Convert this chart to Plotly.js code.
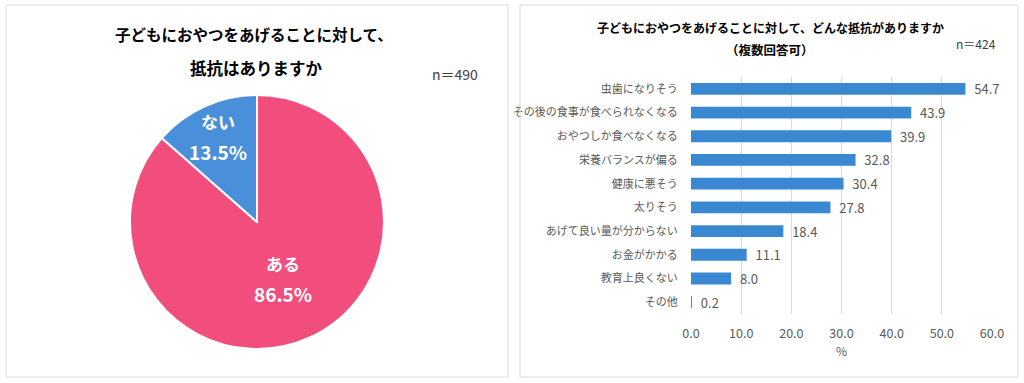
<!DOCTYPE html>
<html><head><meta charset="utf-8">
<script src="https://cdn.plot.ly/plotly-3.0.1.min.js"></script>
<style>html,body{margin:0;padding:0;background:#fff}#chart{width:1024px;height:383px}</style>
</head><body><div id="chart"></div>
<script>
const pieLabels = ["ある", "ない"];
const pieValues = [86.5, 13.5];
const pieColors = ["#F24E7D", "#4A8FD9"];

const barCategories = ["虫歯になりそう","その後の食事が食べられなくなる","おやつしか食べなくなる","栄養バランスが偏る","健康に悪そう","太りそう","あげて良い量が分からない","お金がかかる","教育上良くない","その他"];
const barValues = [54.7, 43.9, 39.9, 32.8, 30.4, 27.8, 18.4, 11.1, 8.0, 0.2];
const xTicks = [0, 10, 20, 30, 40, 50, 60];

const FONT = "'Noto Sans CJK JP', 'Noto Sans', sans-serif";
const W = 1024, H = 383;
const px = x => x / W, py = y => 1 - y / H;

// pie geometry (pixels) and label radius fraction per slice
const PIE = {cx: 257, cy: 222, r: 127};
const labelRadius = [0.49, 0.74];

const traces = [
  {
    type: "pie", labels: pieLabels, values: pieValues, sort: false, direction: "clockwise", rotation: 0,
    marker: {colors: pieColors, line: {color: "#ffffff", width: 2}},
    textinfo: "none",
    domain: {x: [px(PIE.cx - PIE.r), px(PIE.cx + PIE.r)], y: [py(PIE.cy + PIE.r), py(PIE.cy - PIE.r)]},
    showlegend: false, hoverinfo: "none"
  },
  {
    type: "bar", orientation: "h", x: barValues, y: barCategories,
    marker: {color: "#3A87D2"}, width: 0.5,
    texttemplate: "  %{x:.1f}", textposition: "outside", cliponaxis: false, constraintext: "none",
    textfont: {family: FONT, size: 13, color: "#595959"},
    xaxis: "x", yaxis: "y", showlegend: false, hoverinfo: "none"
  }
];

// pie labels placed at each slice's mid-angle
const total = pieValues.reduce((a, b) => a + b, 0);
const pieAnns = [];
let cum = 0;
pieValues.forEach((v, i) => {
  const mid = (cum + v / 2) / total * 2 * Math.PI;
  cum += v;
  const x = PIE.cx + labelRadius[i] * PIE.r * Math.sin(mid);
  const y = PIE.cy - labelRadius[i] * PIE.r * Math.cos(mid);
  pieAnns.push({xref: "paper", yref: "paper", x: px(x), y: py(y - 15), text: pieLabels[i], showarrow: false,
    xanchor: "center", yanchor: "middle", font: {family: FONT, size: 17, color: "#ffffff", weight: "bold"}});
  pieAnns.push({xref: "paper", yref: "paper", x: px(x), y: py(y + 15), text: (v / total * 100).toFixed(1) + "%", showarrow: false,
    xanchor: "center", yanchor: "middle", font: {family: FONT, size: 19, color: "#ffffff", weight: "bold"}});
});

const layout = {
  width: W, height: H, margin: {l: 0, r: 0, t: 0, b: 0},
  paper_bgcolor: "#ffffff", plot_bgcolor: "#ffffff",
  font: {family: FONT, color: "#595959"},
  xaxis: {
    domain: [px(691), px(992)], range: [0, 60], tickvals: xTicks, ticktext: xTicks.map(v => v.toFixed(1)),
    showgrid: true, gridcolor: "#D9D9D9", gridwidth: 1, zeroline: false, showline: false,
    ticks: "outside", ticklen: 8, tickcolor: "rgba(0,0,0,0)",
    tickfont: {family: FONT, size: 12.5, color: "#595959"},
    title: {text: "%", font: {family: FONT, size: 12, color: "#595959"}, standoff: 6},
    fixedrange: true
  },
  yaxis: {
    domain: [py(314), py(77)], autorange: "reversed", showgrid: false, zeroline: false, showline: false,
    ticks: "outside", ticklen: 10, tickcolor: "rgba(0,0,0,0)",
    tickfont: {family: FONT, size: 11, color: "#595959"},
    anchor: "x", fixedrange: true
  },
  shapes: [
    {type: "rect", xref: "paper", yref: "paper", x0: px(6), x1: px(508), y0: py(377), y1: py(5), line: {color: "#D9D9D9", width: 1}},
    {type: "rect", xref: "paper", yref: "paper", x0: px(520), x1: px(1018), y0: py(377), y1: py(5), line: {color: "#D9D9D9", width: 1}}
  ],
  annotations: pieAnns.concat([
    {xref: "paper", yref: "paper", x: px(254), y: py(34), text: "子どもにおやつをあげることに対して、", showarrow: false, xanchor: "center", yanchor: "middle", font: {family: FONT, size: 15.5, color: "#000000", weight: "bold"}},
    {xref: "paper", yref: "paper", x: px(256), y: py(68), text: "抵抗はありますか", showarrow: false, xanchor: "center", yanchor: "middle", font: {family: FONT, size: 16.5, color: "#000000", weight: "bold"}},
    {xref: "paper", yref: "paper", x: px(455), y: py(74), text: "n＝490", showarrow: false, xanchor: "center", yanchor: "middle", font: {family: FONT, size: 14, color: "#404040"}},
    {xref: "paper", yref: "paper", x: px(770), y: py(27), text: "子どもにおやつをあげることに対して、どんな抵抗がありますか", showarrow: false, xanchor: "center", yanchor: "middle", font: {family: FONT, size: 12, color: "#000000", weight: "bold"}},
    {xref: "paper", yref: "paper", x: px(770), y: py(50), text: "（複数回答可）", showarrow: false, xanchor: "center", yanchor: "middle", font: {family: FONT, size: 12.5, color: "#000000", weight: "bold"}},
    {xref: "paper", yref: "paper", x: px(976), y: py(43), text: "n＝424", showarrow: false, xanchor: "center", yanchor: "middle", font: {family: FONT, size: 12, color: "#404040"}}
  ])
};

Plotly.newPlot("chart", traces, layout, {staticPlot: true, displayModeBar: false});
</script></body></html>
